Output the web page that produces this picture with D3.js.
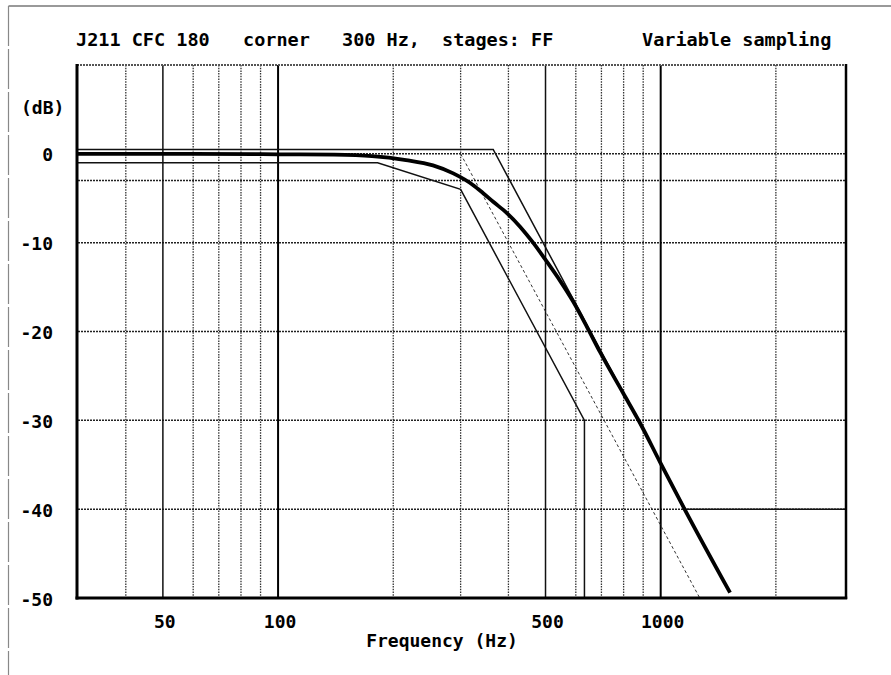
<!DOCTYPE html>
<html>
<head>
<meta charset="utf-8">
<script src="https://cdn.jsdelivr.net/npm/d3@7"></script>
<style>
  html, body { margin: 0; padding: 0; background: #fff; }
  svg { display: block; }
  text { font-family: "DejaVu Sans Mono", "Liberation Mono", monospace; font-weight: bold; fill: #000; }
</style>
</head>
<body>
<svg id="chart" width="891" height="675"></svg>
<script>
// Frequency response of the J211 CFC 180 filter with its tolerance corridor.
const responseFreq = [30, 60, 100, 140, 176, 216, 254, 287, 323, 343, 365, 397, 429, 464, 505, 546, 590, 642, 694, 797, 883, 996, 1158, 1518];
const responseDb   = [0, 0, -0.05, -0.1, -0.25, -0.7, -1.3, -2.2, -3.5, -4.4, -5.4, -6.7, -8.2, -10.0, -12.2, -14.3, -16.6, -19.5, -22.3, -26.9, -30.3, -34.7, -40.1, -49.4];

const upperFreq = [30, 365, 1160, 3050];
const upperDb   = [0.5, 0.5, -40, -40];

const lowerFreq = [30, 182, 300, 632, 632];
const lowerDb   = [-1, -1, -4, -30, -50];

const slopeFreq = [300, 1265];
const slopeDb   = [0, -50];

const freqMajor = [100, 1000];
const freqMid   = [50, 500];
const freqMinor = [40, 60, 70, 80, 90, 200, 300, 400, 600, 700, 800, 900, 2000];
const dbGrid    = [0, -3, -10, -20, -30, -40];

const xTickLabels = [50, 100, 500, 1000];
const yTickLabels = [0, -10, -20, -30, -40, -50];

const svg = d3.select("#chart");

const x = d3.scaleLog().domain([30, 3050]).range([78, 846]);
const y = d3.scaleLinear().domain([-50, 10]).range([598, 65]);

// page frame
svg.append("line").attr("x1", 8.5).attr("x2", 891).attr("y1", 6).attr("y2", 6)
  .attr("stroke", "#777").attr("stroke-width", 1.3);
svg.append("line").attr("x1", 8.5).attr("x2", 8.5).attr("y1", 6).attr("y2", 675)
  .attr("stroke", "#888").attr("stroke-width", 1.2).attr("stroke-dasharray", "40,3");

const grid = svg.append("g");

// horizontal dotted grid
grid.selectAll("line.hg").data(dbGrid).join("line")
  .attr("class", "hg")
  .attr("x1", x.range()[0]).attr("x2", x.range()[1])
  .attr("y1", d => y(d)).attr("y2", d => y(d))
  .attr("stroke", "#222").attr("stroke-width", 1.5).attr("stroke-dasharray", "2,1");

// vertical dotted grid
grid.selectAll("line.vg").data(freqMinor).join("line")
  .attr("class", "vg")
  .attr("x1", d => x(d)).attr("x2", d => x(d))
  .attr("y1", y.range()[1]).attr("y2", y.range()[0])
  .attr("stroke", "#333").attr("stroke-width", 1.3).attr("stroke-dasharray", "1.5,1.2");

grid.selectAll("line.vmid").data(freqMid).join("line")
  .attr("class", "vmid")
  .attr("x1", d => x(d)).attr("x2", d => x(d))
  .attr("y1", y.range()[1]).attr("y2", y.range()[0])
  .attr("stroke", "#111").attr("stroke-width", 1.5);

grid.selectAll("line.vmaj").data(freqMajor).join("line")
  .attr("class", "vmaj")
  .attr("x1", d => x(d)).attr("x2", d => x(d))
  .attr("y1", y.range()[1]).attr("y2", y.range()[0])
  .attr("stroke", "#000").attr("stroke-width", 2);

const line = d3.line().x(d => x(d[0])).y(d => y(d[1]));
const zip = (a, b) => a.map((v, i) => [v, b[i]]);

// -24 dB/octave asymptote from the corner
svg.append("path").datum(zip(slopeFreq, slopeDb))
  .attr("d", line).attr("fill", "none")
  .attr("stroke", "#333").attr("stroke-width", 1).attr("stroke-dasharray", "3,2.5");

// corridor limits
svg.append("path").datum(zip(upperFreq, upperDb))
  .attr("d", line).attr("fill", "none")
  .attr("stroke", "#111").attr("stroke-width", 1.5);
svg.append("path").datum(zip(lowerFreq, lowerDb))
  .attr("d", line).attr("fill", "none")
  .attr("stroke", "#111").attr("stroke-width", 1.5);

// filter response
svg.append("path").datum(zip(responseFreq, responseDb))
  .attr("d", line.curve(d3.curveMonotoneX)).attr("fill", "none")
  .attr("stroke", "#000").attr("stroke-width", 3.8).attr("stroke-linejoin", "round");

// plot frame
const [x0, x1] = x.range();
const [yb, yt] = y.range();
svg.append("line").attr("x1", x0 - 1).attr("x2", x1 + 1).attr("y1", yt).attr("y2", yt)
  .attr("stroke", "#555").attr("stroke-width", 2).attr("stroke-dasharray", "2,1");
svg.append("line").attr("x1", x1).attr("x2", x1).attr("y1", yt - 1).attr("y2", yb + 1)
  .attr("stroke", "#000").attr("stroke-width", 2.5);
svg.append("line").attr("x1", x0 - 1).attr("x2", x0 - 1).attr("y1", yt - 1).attr("y2", yb + 1.5)
  .attr("stroke", "#000").attr("stroke-width", 3);
svg.append("line").attr("x1", x0 - 2.5).attr("x2", x1 + 1.2).attr("y1", yb).attr("y2", yb)
  .attr("stroke", "#000").attr("stroke-width", 3);

// title line
const title = svg.append("g").style("font-size", "18.5px");
title.append("text").attr("x", 76).attr("y", 46).text("J211 CFC 180");
title.append("text").attr("x", 243).attr("y", 46).text("corner");
title.append("text").attr("x", 342).attr("y", 46).text("300 Hz,");
title.append("text").attr("x", 442).attr("y", 46).text("stages: FF");
title.append("text").attr("x", 642).attr("y", 46).text("Variable sampling");

// y axis labels
const yl = svg.append("g").style("font-size", "18px");
yl.append("text").attr("x", 21).attr("y", 114).text("(dB)");
yl.selectAll("text.yt").data(yTickLabels).join("text")
  .attr("class", "yt")
  .attr("x", 53).attr("y", d => y(d)).attr("dy", "0.42em")
  .attr("text-anchor", "end").text(d => d);

// x axis labels
const xl = svg.append("g").style("font-size", "18px");
xl.selectAll("text.xt").data(xTickLabels).join("text")
  .attr("class", "xt")
  .attr("x", d => x(d) + 2).attr("y", 628)
  .attr("text-anchor", "middle").text(d => d);
xl.append("text").attr("x", 442).attr("y", 647).attr("text-anchor", "middle").text("Frequency (Hz)");
</script>
</body>
</html>
